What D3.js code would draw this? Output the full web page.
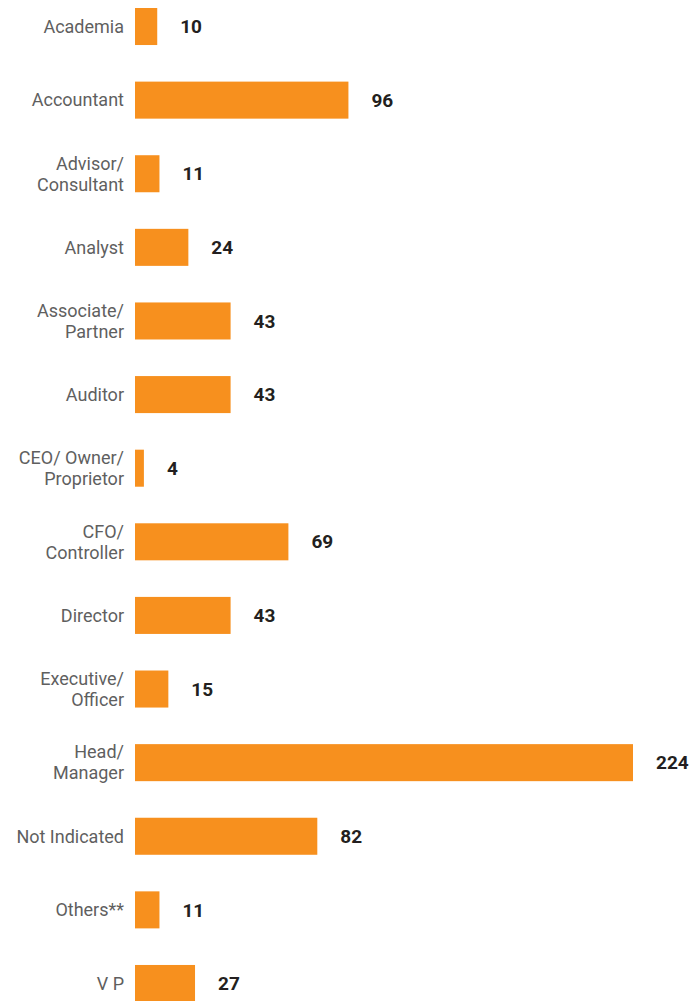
<!DOCTYPE html>
<html>
<head>
<meta charset="UTF-8">
<title>Job titles</title>
<style type="text/css">
body { margin: 0; background: #fff; }
.label { font-family: Roboto, "Noto Sans", sans-serif; font-size: 18px; fill: #5f5f5f; }
.value { font-family: Roboto, "Noto Sans", sans-serif; font-size: 19px; font-weight: bold; fill: #231f20; }
</style>
<script src="https://d3js.org/d3.v7.min.js"></script>
</head>
<body>
<script type="text/javascript">
// categories (line breaks as "|")
var categories = ["Academia", "Accountant", "Advisor/|Consultant", "Analyst", "Associate/|Partner",
    "Auditor", "CEO/ Owner/|Proprietor", "CFO/|Controller", "Director", "Executive/|Officer",
    "Head/|Manager", "Not Indicated", "Others**", "V P"];
var counts = [10, 96, 11, 24, 43, 43, 4, 69, 43, 15, 224, 82, 11, 27];

var width = 696, height = 1001;
var left = 135;

var svg = d3.select("body").append("svg")
    .attr("width", width)
    .attr("height", height);

var x = d3.scaleLinear()
    .domain([0, 224])
    .range([left, 633]);

var y = d3.scaleBand()
    .domain(categories)
    .range([8, 1002])
    .paddingInner(0.497)
    .paddingOuter(0);

var rows = svg.selectAll("g.row")
    .data(categories.map(function(c, i) { return {cat: c, v: counts[i]}; }))
    .enter().append("g")
    .attr("class", "row");

rows.append("rect")
    .attr("x", x(0))
    .attr("y", function(d) { return y(d.cat); })
    .attr("width", function(d) { return x(d.v) - x(0); })
    .attr("height", y.bandwidth())
    .attr("fill", "#f7901e");

// category labels, right aligned next to the bars
rows.each(function(d) {
    var lines = d.cat.split("|");
    var cy = y(d.cat) + y.bandwidth() / 2;
    var lh = 21;
    var t = d3.select(this).append("text")
        .attr("class", "label")
        .attr("text-anchor", "end")
        .attr("x", left - 11);
    lines.forEach(function(l, i) {
        t.append("tspan")
            .attr("x", left - 11)
            .attr("y", cy + (i - (lines.length - 1) / 2) * lh)
            .attr("dy", "0.35em")
            .text(l);
    });
});

rows.append("text")
    .attr("class", "value")
    .attr("x", function(d) { return x(d.v) + 23; })
    .attr("y", function(d) { return y(d.cat) + y.bandwidth() / 2; })
    .attr("dy", "0.35em")
    .text(function(d) { return d.v; });
</script>
</body>
</html>
